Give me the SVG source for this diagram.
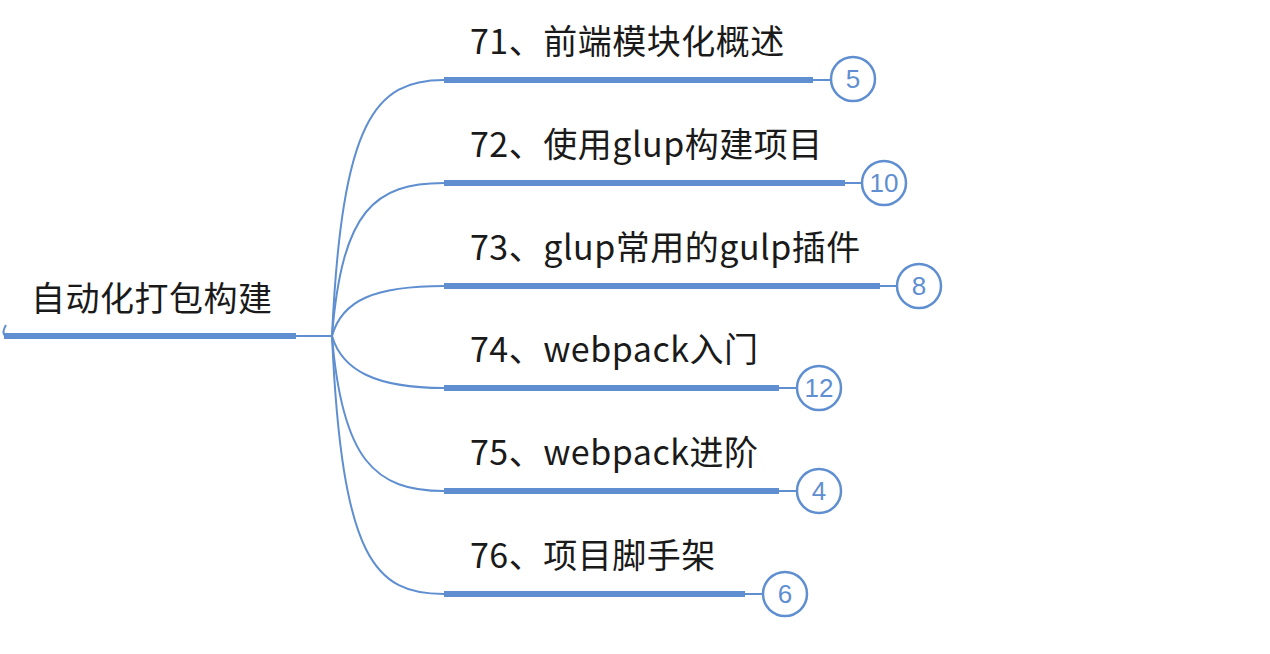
<svg xmlns="http://www.w3.org/2000/svg" width="1270" height="654" viewBox="0 0 1270 654">
<style>
.t{font-family:"Noto Sans CJK SC","Noto Sans",sans-serif;font-size:34px;letter-spacing:0.5px;fill:#1a1a1a}
.bar{stroke:#5f8fd0;stroke-width:6;fill:none}
.thin{stroke:#5f8fd0;stroke-width:2;fill:none}
.c{fill:#fff;stroke:#5f8fd0;stroke-width:2.5}
.n{font-family:"Liberation Sans",sans-serif;font-size:26px;fill:#5f8fd0;text-anchor:middle}
</style>
<rect width="1270" height="654" fill="#fff"/>
<g id="connectors">
<path class="thin" d="M332,336 C342,120 375,80 444,80"/>
<path class="thin" d="M332,336 C342,210 375,183 444,183"/>
<path class="thin" d="M332,336 C342,300 375,286 444,286"/>
<path class="thin" d="M332,336 C342,370 375,388 444,388"/>
<path class="thin" d="M332,336 C342,460 375,491 444,491"/>
<path class="thin" d="M332,336 C342,560 375,594 444,594"/>
<path class="thin" d="M296,336 L332,336"/>
<path class="thin" d="M6,325 C3,330 3,334 5,336"/>
</g>
<g id="root">
<line class="bar" x1="4" y1="336" x2="296" y2="336"/>
<text class="t" x="31" y="311">自动化打包构建</text>
</g>
<g id="n71">
<line class="bar" x1="444" y1="80" x2="813" y2="80"/>
<line class="thin" x1="813" y1="80" x2="831" y2="80"/>
<text class="t" x="470" y="54">71、前端模块化概述</text>
<circle class="c" cx="853" cy="79" r="22"/>
<text class="n" x="853" y="88">5</text>
</g>
<g id="n72">
<line class="bar" x1="444" y1="183" x2="845" y2="183"/>
<line class="thin" x1="845" y1="183" x2="862" y2="183"/>
<text class="t" x="470" y="157">72、使用glup构建项目</text>
<circle class="c" cx="884" cy="183" r="22"/>
<text class="n" x="884" y="192">10</text>
</g>
<g id="n73">
<line class="bar" x1="444" y1="286" x2="880" y2="286"/>
<line class="thin" x1="880" y1="286" x2="897" y2="286"/>
<text class="t" x="470" y="260">73、glup常用的gulp插件</text>
<circle class="c" cx="919" cy="286" r="22"/>
<text class="n" x="919" y="295">8</text>
</g>
<g id="n74">
<line class="bar" x1="444" y1="388" x2="779" y2="388"/>
<line class="thin" x1="779" y1="388" x2="797" y2="388"/>
<text class="t" x="470" y="362">74、webpack入门</text>
<circle class="c" cx="819" cy="388" r="22"/>
<text class="n" x="819" y="397">12</text>
</g>
<g id="n75">
<line class="bar" x1="444" y1="491" x2="779" y2="491"/>
<line class="thin" x1="779" y1="491" x2="797" y2="491"/>
<text class="t" x="470" y="465">75、webpack进阶</text>
<circle class="c" cx="819" cy="491" r="22"/>
<text class="n" x="819" y="500">4</text>
</g>
<g id="n76">
<line class="bar" x1="444" y1="594" x2="745" y2="594"/>
<line class="thin" x1="745" y1="594" x2="763" y2="594"/>
<text class="t" x="470" y="568">76、项目脚手架</text>
<circle class="c" cx="785" cy="594" r="22"/>
<text class="n" x="785" y="603">6</text>
</g>
</svg>
